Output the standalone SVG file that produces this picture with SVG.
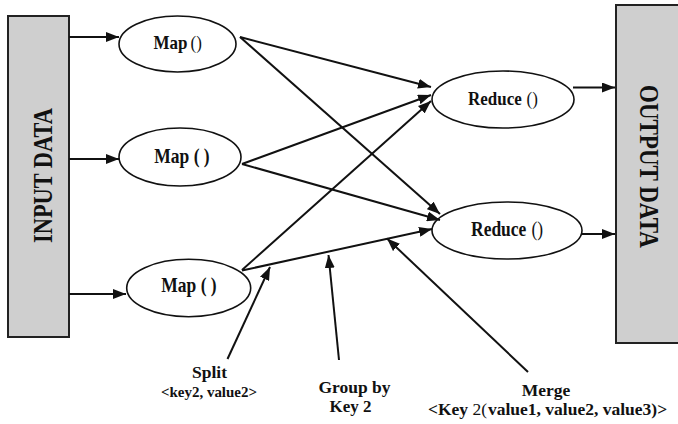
<svg xmlns="http://www.w3.org/2000/svg" width="678" height="424" viewBox="0 0 678 424">
  <defs>
    <marker id="arrow" markerUnits="userSpaceOnUse" markerWidth="13" markerHeight="10" refX="13" refY="5" orient="auto">
      <path d="M0,0 L13,5 L0,10 z" fill="#111"/>
    </marker>
    <style>
      .box { fill: #cfcfcf; stroke: #222; stroke-width: 2; }
      .node { fill: #fff; stroke: #111; stroke-width: 1.6; }
      .lbl { font-family: "Liberation Serif", "Times New Roman", serif; font-weight: bold; fill: #111; text-anchor: middle; }
      .st { text-anchor: start; }
      .nt { font-size: 17px; }
      .nt2 { font-size: 17.5px; }
      .side { font-size: 27px; }
      .cap { font-size: 17.5px; }
      .cap2 { font-size: 16.5px; }
      .small { font-size: 14px; }
      .reg { font-weight: normal; }
      .edge { stroke: #111; stroke-width: 2; fill: none; marker-end: url(#arrow); }
    </style>
  </defs>
  <rect width="678" height="424" fill="#fff"/>

  <!-- data stores -->
  <g id="input-data">
    <rect class="box" x="8" y="16" width="61" height="321"/>
    <text class="lbl side" transform="translate(51.5,175.5) rotate(-90)" textLength="135" lengthAdjust="spacingAndGlyphs">INPUT DATA</text>
  </g>
  <g id="output-data">
    <rect class="box" x="616" y="5" width="70" height="338"/>
    <text class="lbl side" transform="translate(639.5,166.5) rotate(90)" textLength="163" lengthAdjust="spacingAndGlyphs">OUTPUT DATA</text>
  </g>

  <!-- map tasks (labels stretched slightly taller than wide) -->
  <g id="map1">
    <ellipse class="node" cx="177.5" cy="44" rx="58.5" ry="28"/>
    <text class="lbl nt st" transform="translate(153.5,49) scale(1,1.15)">Map</text>
    <text class="lbl nt st reg" transform="translate(190.5,49) scale(1,1.15)">()</text>
  </g>
  <g id="map2">
    <ellipse class="node" cx="180" cy="157" rx="61" ry="29"/>
    <text class="lbl nt2" transform="translate(182,163) scale(1,1.15)">Map ( )</text>
  </g>
  <g id="map3">
    <ellipse class="node" cx="188.7" cy="288" rx="62" ry="28.7"/>
    <text class="lbl nt2" transform="translate(189,292) scale(1,1.15)">Map ( )</text>
  </g>

  <!-- reduce tasks -->
  <g id="reduce1">
    <ellipse class="node" cx="503" cy="99.5" rx="71" ry="28.5"/>
    <text class="lbl nt st" transform="translate(468,105) scale(1,1.15)">Reduce</text>
    <text class="lbl nt st reg" transform="translate(526.5,105) scale(1,1.15)">()</text>
  </g>
  <g id="reduce2">
    <ellipse class="node" cx="507" cy="230.5" rx="75" ry="28.5"/>
    <text class="lbl nt2 st" transform="translate(471,235.5) scale(1,1.15)">Reduce</text>
    <text class="lbl nt2 st reg" transform="translate(531.5,235.5) scale(1,1.15)">()</text>
  </g>

  <!-- stage captions -->
  <g id="split">
    <text class="lbl cap" x="209.5" y="378">Split</text>
    <text class="lbl small" x="209" y="396.5" textLength="96" lengthAdjust="spacingAndGlyphs">&lt;key2, value2&gt;</text>
  </g>
  <g id="group-by">
    <text class="lbl cap2" x="354.5" y="393" textLength="72" lengthAdjust="spacingAndGlyphs">Group by</text>
    <text class="lbl cap2" x="350.5" y="411.5" textLength="42" lengthAdjust="spacingAndGlyphs">Key 2</text>
  </g>
  <g id="merge">
    <text class="lbl cap" x="546" y="396">Merge</text>
    <text class="lbl cap st" x="428" y="415">&lt;Key</text>
    <text class="lbl cap st reg" x="472.5" y="415">2(</text>
    <text class="lbl cap st" x="488" y="415">value1, value2, value3)&gt;</text>
  </g>

  <!-- connectors -->
  <g id="connectors">
    <line class="edge" x1="69" y1="37" x2="119" y2="37"/>
    <line class="edge" x1="69" y1="159" x2="119" y2="159"/>
    <line class="edge" x1="69" y1="294" x2="126" y2="294"/>

    <line class="edge" x1="240" y1="37" x2="431" y2="87"/>
    <line class="edge" x1="240" y1="37" x2="440" y2="214"/>
    <line class="edge" x1="242" y1="164" x2="431" y2="95"/>
    <line class="edge" x1="242" y1="164" x2="440" y2="220"/>
    <line class="edge" x1="242" y1="270" x2="431" y2="101"/>
    <line class="edge" x1="242" y1="270.5" x2="432" y2="229"/>

    <line class="edge" x1="573" y1="87.5" x2="615" y2="87.5"/>
    <line class="edge" x1="582" y1="234" x2="615" y2="234"/>

    <line class="edge" x1="227.5" y1="359" x2="270" y2="267"/>
    <line class="edge" x1="339" y1="360" x2="328.5" y2="255"/>
    <line class="edge" x1="528" y1="372" x2="387" y2="238.5"/>
  </g>
</svg>
